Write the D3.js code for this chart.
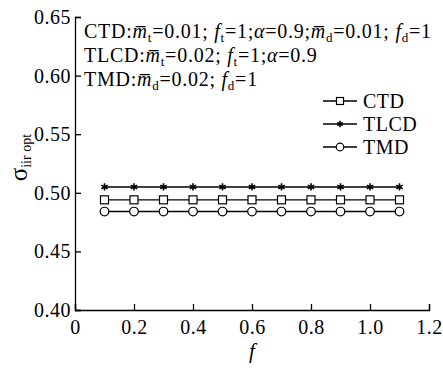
<!DOCTYPE html>
<html>
<head>
<meta charset="utf-8">
<script src="https://cdn.jsdelivr.net/npm/d3@7"></script>
<style>
	body { margin: 0; background: #fff; }
	svg text { font-family: "Liberation Serif", serif !important; fill: #000; }
</style>
</head>
<body>
<svg id="chart" width="443" height="372"></svg>
<script>
const fValues = [0.1, 0.2, 0.3, 0.4, 0.5, 0.6, 0.7, 0.8, 0.9, 1.0, 1.1];
const ctd = [0.494, 0.494, 0.494, 0.494, 0.494, 0.494, 0.494, 0.494, 0.494, 0.494, 0.494];
const tlcd = [0.505, 0.505, 0.505, 0.505, 0.505, 0.505, 0.505, 0.505, 0.505, 0.505, 0.505];
const tmd = [0.484, 0.484, 0.484, 0.484, 0.484, 0.484, 0.484, 0.484, 0.484, 0.484, 0.484];
const xTicks = [0, 0.2, 0.4, 0.6, 0.8, 1.0, 1.2];
const xTickLabels = ['0', '0.2', '0.4', '0.6', '0.8', '1.0', '1.2'];
const yTicks = [0.40, 0.45, 0.50, 0.55, 0.60, 0.65];
const seriesNames = ['CTD', 'TLCD', 'TMD'];
const symbols = ['square', 'star', 'circle'];

const svg = d3.select('#chart');
const margin = { left: 75, right: 14, top: 17, bottom: 62 };
const W = 443, H = 372;

let x = d3.scaleLinear().domain([0, 1.2]).range([margin.left, W - margin.right]);
let y = d3.scaleLinear().domain([0.40, 0.65]).range([H - margin.bottom, margin.top]);

let xAxis = d3.axisBottom(x).tickValues(xTicks).tickSize(-6).tickPadding(13)
	.tickFormat((d, i) => xTickLabels[i]);
let yAxis = d3.axisLeft(y).tickValues(yTicks).tickSize(-6).tickPadding(4)
	.tickFormat(d3.format('.2f'));

let gx = svg.append('g')
	.attr('transform', `translate(0,${H - margin.bottom})`)
	.call(xAxis);
let gy = svg.append('g')
	.attr('transform', `translate(${margin.left},0)`)
	.call(yAxis);

[gx, gy].forEach(g => {
	g.select('.domain').attr('stroke', '#000').attr('stroke-width', 1.3);
	g.selectAll('.tick line').attr('stroke', '#000').attr('stroke-width', 1.3);
	g.selectAll('.tick text').attr('font-size', 20).attr('letter-spacing', 0.5);
});
gy.selectAll('.tick text').attr('dy', '0.32em');
gx.selectAll('.tick text').attr('dy', '0.55em');

// axis titles
svg.append('text')
	.attr('x', x(0.6)).attr('y', 358)
	.attr('text-anchor', 'middle')
	.attr('font-size', 21).attr('font-style', 'italic')
	.text('f');

let ylab = svg.append('text')
	.attr('transform', `translate(27,${y(0.53)}) rotate(-90)`)
	.attr('text-anchor', 'middle')
	.attr('font-size', 25);
ylab.append('tspan').text('σ');
ylab.append('tspan').attr('font-size', 14).attr('dy', 4).text('iir opt');

// series
let allSeries = [ctd, tlcd, tmd];
let line = d3.line().x((d, i) => x(fValues[i])).y(d => y(d));

function drawMarker(g, type, cx, cy, r) {
	if (type === 'square') {
		g.append('rect').attr('x', cx - r).attr('y', cy - r).attr('width', 2 * r).attr('height', 2 * r)
			.attr('fill', '#fff').attr('stroke', '#000').attr('stroke-width', 1.2);
	} else if (type === 'circle') {
		g.append('circle').attr('cx', cx).attr('cy', cy).attr('r', r + 0.3)
			.attr('fill', '#fff').attr('stroke', '#000').attr('stroke-width', 1.2);
	} else {
		g.append('path')
			.attr('d', d3.symbol().type(d3.symbolAsterisk).size(r * r * 2.3)())
			.attr('transform', `translate(${cx},${cy})`)
			.attr('stroke', '#000').attr('stroke-width', 1.6).attr('fill', 'none');
	}
}

allSeries.forEach((s, k) => {
	let g = svg.append('g');
	g.append('path').datum(s).attr('d', line)
		.attr('fill', 'none').attr('stroke', '#000').attr('stroke-width', 1.4);
	s.forEach((v, i) => drawMarker(g, symbols[k], x(fValues[i]), y(v), 4));
});

// legend
let legend = svg.append('g');
seriesNames.forEach((n, k) => {
	let ly = 101 + k * 23;
	legend.append('line').attr('x1', 323).attr('x2', 357).attr('y1', ly).attr('y2', ly)
		.attr('stroke', '#000').attr('stroke-width', 1.4);
	drawMarker(legend, symbols[k], 340, ly, 3.5);
	legend.append('text').attr('x', 363).attr('y', ly + 6.5).attr('font-size', 20)
		.attr('letter-spacing', 0.5).text(n);
});

// annotation lines: each part is [kind, text]; kind t = plain, m = m-bar, f = italic f, a = alpha
const notes = [
	[['t', 'CTD:'], ['m', 't'], ['t', '=0.01; '], ['f', 't'], ['t', '=1;'], ['a'], ['t', '=0.9;'], ['m', 'd'], ['t', '=0.01; '], ['f', 'd'], ['t', '=1']],
	[['t', 'TLCD:'], ['m', 't'], ['t', '=0.02; '], ['f', 't'], ['t', '=1;'], ['a'], ['t', '=0.9']],
	[['t', 'TMD:'], ['m', 'd'], ['t', '=0.02; '], ['f', 'd'], ['t', '=1']]
];
notes.forEach((row, r) => {
	let t = svg.append('text').attr('x', 84).attr('y', 38 + r * 24).attr('font-size', 20)
		.attr('letter-spacing', 0.75)
		.attr('xml:space', 'preserve');
	let shift = 0;
	row.forEach(p => {
		let sp;
		if (p[0] === 't') sp = t.append('tspan').text(p[1]);
		else if (p[0] === 'a') sp = t.append('tspan').attr('font-style', 'italic').text('α');
		else sp = t.append('tspan').attr('font-style', 'italic').text(p[0] === 'm' ? 'm\u0305' : 'f');
		if (shift) sp.attr('dy', -shift);
		shift = 0;
		if (p[0] === 'm' || p[0] === 'f') {
			t.append('tspan').attr('font-size', 13).attr('dy', 4).text(p[1]);
			shift = 4;
		}
	});
});
</script>
</body>
</html>
